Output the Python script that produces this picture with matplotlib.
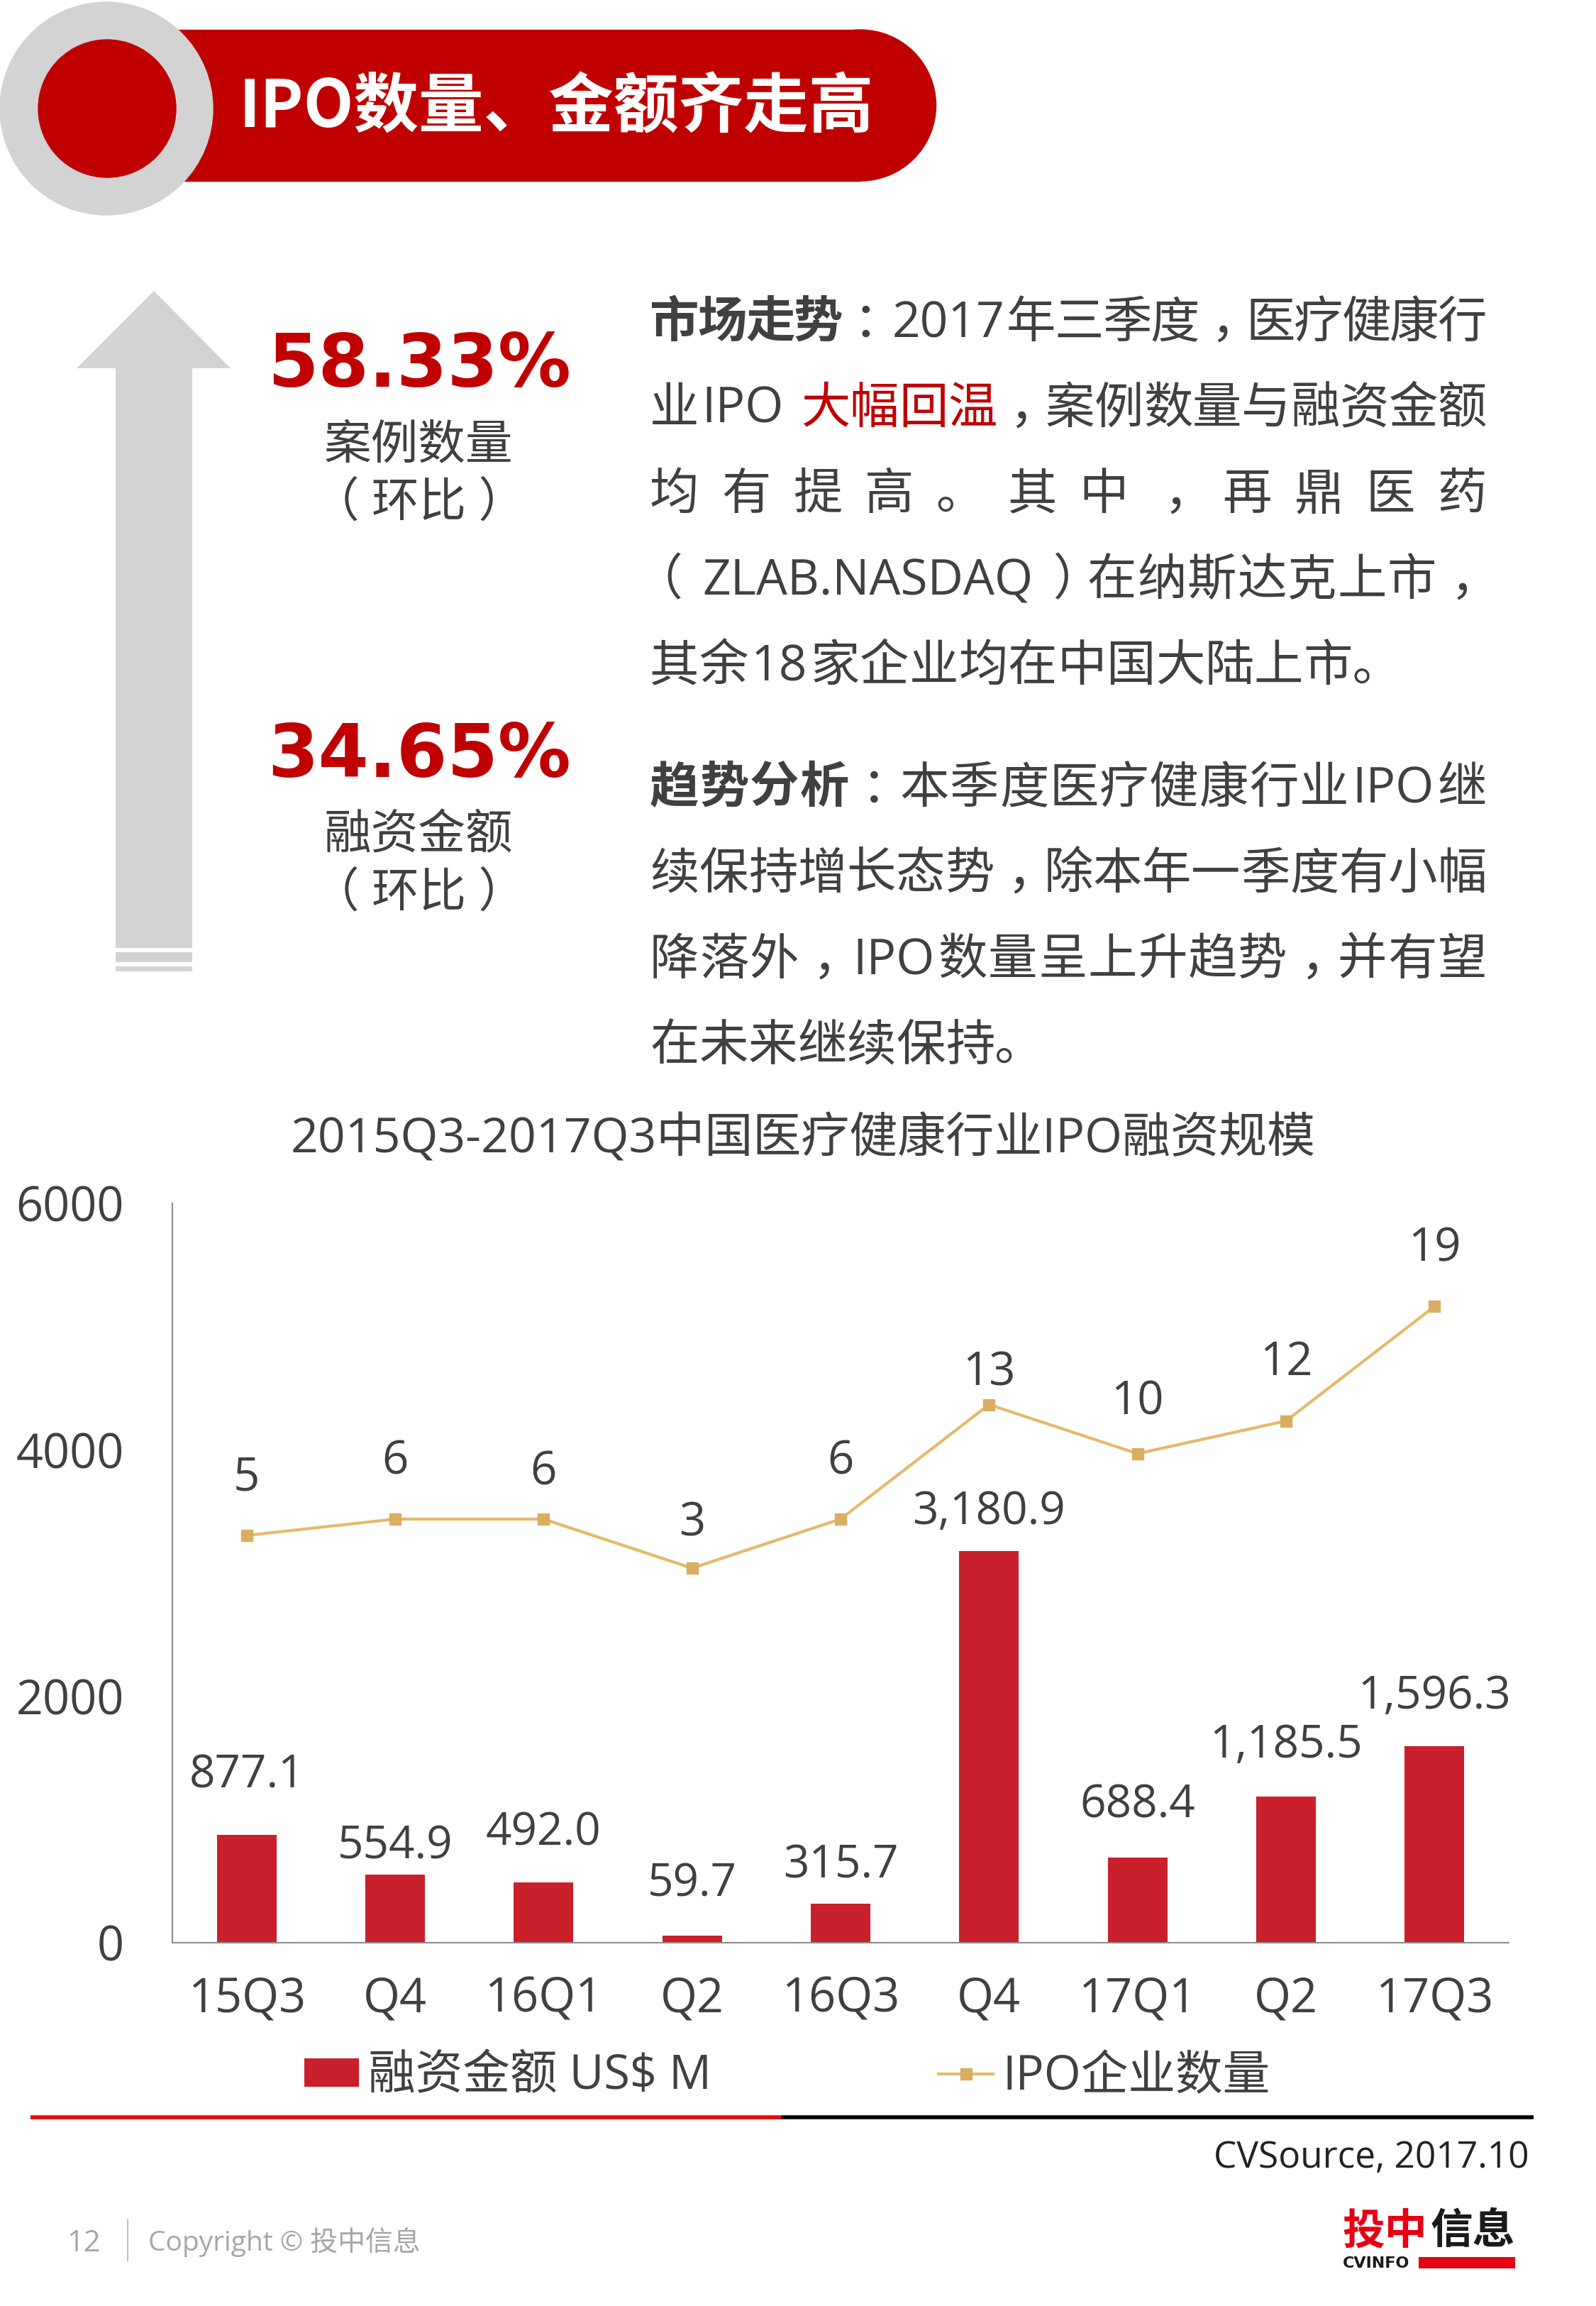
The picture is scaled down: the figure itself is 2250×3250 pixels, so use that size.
import matplotlib
matplotlib.use("Agg")
import numpy as np
import matplotlib.pyplot as plt
from matplotlib.patches import Rectangle, Circle, Polygon, PathPatch
from matplotlib.textpath import TextPath
from matplotlib.font_manager import FontProperties
from matplotlib.transforms import Affine2D

# ---- data ----
quarters = ["15Q3", "Q4", "16Q1", "Q2", "16Q3", "Q4", "17Q1", "Q2", "17Q3"]
amount = [877.1, 554.9, 492.0, 59.7, 315.7, 3180.9, 688.4, 1185.5, 1596.3]
ipo_count = [5, 6, 6, 3, 6, 13, 10, 12, 19]
yticks = [0, 2000, 4000, 6000]

# label offsets (points above the mark), as placed in the original slide
amount_dy = [60, 28, 50, 52, 39, 39, 53, 52, 50]
count_dy = [58, 58, 47, 45, 58, 32, 52, 59, 58]

FONT = ["Open Sans", "Noto Sans CJK SC"]
plt.rcParams["font.family"] = FONT
TXT = "#404040"
RED = "#C00000"
BAR = "#C9202B"
GOLD = "#E6B96B"
GREY = "#D3D3D3"

fig = plt.figure(figsize=(22.5, 32.5), dpi=100)
page = fig.add_axes([0, 0, 1, 1])
page.set_xlim(0, 2250)
page.set_ylim(3250, 0)
page.axis("off")

# ---- header banner ----
page.add_patch(Rectangle((200, 42), 1013, 213, color=RED, zorder=1))
page.add_patch(Circle((1213, 148.5), 106.5, color=RED, zorder=1))
page.add_patch(Circle((150, 153), 150, color=GREY, zorder=2))
page.add_patch(Circle((151, 153), 97, color=RED, zorder=3))
page.text(337, 152, "IPO数量、金额齐走高", color="white", fontsize=66,
          fontweight="bold", family=["Noto Sans CJK SC"], ha="left", va="center", zorder=4)

# ---- arrow ----
page.add_patch(Polygon([(217, 410), (325, 519), (271, 519), (271, 1336), (163, 1336),
                        (163, 519), (108, 519)], closed=True, color=GREY, lw=0))
page.add_patch(Rectangle((163, 1342), 108, 14, color=GREY, lw=0))
page.add_patch(Rectangle((163, 1362), 108, 7, color=GREY, lw=0))

for pct, lab, yc in [("58.33%", "案例数量", 517), ("34.65%", "融资金额", 1067)]:
    page.text(591, yc, pct, color=RED, fontsize=74, fontweight="bold",
              family=["DejaVu Sans"], ha="center", va="center")
    page.text(590, yc + 112, lab, color=TXT, fontsize=48, ha="center", va="center")
    page.text(590, yc + 193, "（ 环比 ）", color=TXT, fontsize=48, ha="center", va="center")

# ---- justified body text ----
paragraphs = [
    ([[("市场走势", True, TXT), ("：2017年三季度，医疗健康行", False, TXT)],
      [("业IPO ", False, TXT), ("大幅回温", False, RED), ("，案例数量与融资金额", False, TXT)],
      [("均有提高。其中，再鼎医药", False, TXT)],
      [("（ZLAB.NASDAQ）在纳斯达克上市，", False, TXT)],
      [("其余18家企业均在中国大陆上市。", False, TXT)]], 450),
    ([[("趋势分析", True, TXT), ("：本季度医疗健康行业IPO继", False, TXT)],
      [("续保持增长态势，除本年一季度有小幅", False, TXT)],
      [("降落外，IPO数量呈上升趋势，并有望", False, TXT)],
      [("在未来继续保持。", False, TXT)]], 1106),
]
FS = 50
EM = FS * 100 / 72
X0, X1 = 916, 2096
LINE = 121
PUNCT = "，。：、（）"
CENTRED = "，：（）"
renderer = fig.canvas.get_renderer()
cjk_prop = FontProperties(family=["Noto Sans CJK SC"])


def split_units(segments):
    units = []
    for txt, bold, color in segments:
        buf = ""
        for ch in txt:
            if ord(ch) < 0x2000 and ch != " ":
                buf += ch
                continue
            if buf:
                units.append((buf, bold, color, "latin"))
                buf = ""
            if ch == " ":
                kind = "space"
            elif ch in PUNCT:
                kind = "punct"
            else:
                kind = "cjk"
            units.append((ch, bold, color, kind))
        if buf:
            units.append((buf, bold, color, "latin"))
    return units


def punct_patch(ch, x, base, color):
    # commas, colons and brackets sit in the middle of their cell on the slide,
    # the full stop keeps its own bottom-left place
    tp = TextPath((0, 0), ch, size=EM, prop=cjk_prop)
    if ch in CENTRED:
        ext = tp.get_extents()
        tr = Affine2D().translate(-(ext.x0 + ext.x1) / 2, 0).scale(1, -1).translate(x + EM / 2, base)
    else:
        tr = Affine2D().scale(1, -1).translate(x, base)
    page.add_patch(PathPatch(tr.transform_path(tp), color=color, lw=0))


for lines, y0 in paragraphs:
    for li, segs in enumerate(lines):
        base = y0 + li * LINE + 25
        units = split_units(segs)
        arts, widths = [], []
        for s, bold, color, kind in units:
            if kind in ("space", "punct"):
                arts.append(None)
                widths.append(0.3 * EM if kind == "space" else EM)
                continue
            t = page.text(0, base, s, fontsize=FS, color=color,
                          fontweight="bold" if bold else "normal",
                          ha="left" if kind == "latin" else "center", va="baseline")
            arts.append(t)
            if kind == "latin":
                widths.append(t.get_window_extent(renderer).width + 0.12 * EM)
            else:
                widths.append(EM)
        last = li == len(lines) - 1
        gap = 0 if last else (X1 - X0 - sum(widths)) / (len(units) - 1)
        x = X0
        for (s, bold, color, kind), t, w in zip(units, arts, widths):
            if kind == "latin":
                t.set_x(x + 0.06 * EM)
            elif kind == "cjk":
                t.set_x(x + w / 2)
            elif kind == "punct":
                punct_patch(s, x, base, color)
            x += w + gap

# ---- chart ----
page.text(1132, 1606, "2015Q3-2017Q3中国医疗健康行业IPO融资规模", color=TXT,
          fontsize=49, ha="center", va="center")

ax = fig.add_axes([243 / 2250, 512 / 3250, 1884 / 2250, 1042 / 3250])
ax.set_facecolor("none")
xpos = np.arange(len(quarters))
bars = ax.bar(xpos, amount, width=0.4, color=BAR, zorder=2)
ax.set_xlim(-0.5, 8.5)
ax.set_ylim(0, 6000)
ax.set_yticks(yticks)
ax.set_xticks(xpos)
ax.set_xticklabels(quarters)
ax.tick_params(axis="y", length=0, pad=49, labelsize=48, labelcolor=TXT)
ax.tick_params(axis="x", length=0, pad=33, labelsize=48, labelcolor=TXT)
for sp in ["top", "right"]:
    ax.spines[sp].set_visible(False)
for sp in ["left", "bottom"]:
    ax.spines[sp].set_color("#8C8C8C")
    ax.spines[sp].set_linewidth(1.5)

for i, (v, dy) in enumerate(zip(amount, amount_dy)):
    ax.annotate(f"{v:,.1f}", (i, v), xytext=(0, dy), textcoords="offset points",
                ha="center", va="center", fontsize=46, color=TXT)

ax2 = ax.twinx()
line, = ax2.plot(xpos, ipo_count, color=GOLD, lw=3, marker="s", ms=11,
                 mfc="#D9AE62", mec="#D9AE62", zorder=3)
ax2.set_ylim(-19.9, 25.3)
ax2.axis("off")
for i, (v, dy) in enumerate(zip(ipo_count, count_dy)):
    ax2.annotate(str(v), (i, v), xytext=(0, dy), textcoords="offset points",
                 ha="center", va="center", fontsize=47, color=TXT)

fig.legend([bars, line], ["融资金额 US$ M", "IPO企业数量"], loc="center",
           bbox_to_anchor=(1110 / 2250, 1 - 2927 / 3250), ncol=2, frameon=False,
           fontsize=48, labelcolor=TXT, handlelength=1.15, handleheight=0.55,
           handletextpad=0.2, columnspacing=4.8)

# ---- footer ----
page.plot([43, 1101], [2984, 2984], color="#F00000", lw=4, solid_capstyle="butt")
page.plot([1101, 2162], [2984, 2984], color="black", lw=4, solid_capstyle="butt")
page.text(2156, 3041, "CVSource, 2017.10", color="#222222", fontsize=37,
          ha="right", va="center")

page.text(94, 3162, "12", color="#A6A6A6", fontsize=30, ha="left", va="center")
page.plot([180, 180], [3129, 3186], color="#BFBFBF", lw=1.5)
page.text(209, 3160, "Copyright © 投中信息", color="#A6A6A6", fontsize=28,
          ha="left", va="center")

page.text(1892, 3145, "投中", color="#E60012", fontsize=43, fontweight="bold",
          family=["Noto Sans CJK SC"], ha="left", va="center")
page.text(2136, 3145, "信息", color="#1A1A1A", fontsize=43, fontweight="bold",
          family=["Noto Sans CJK SC"], ha="right", va="center")
page.text(1893, 3190, "CVINFO", color="#1A1A1A", fontsize=16, fontweight="bold",
          family=["DejaVu Sans"], ha="left", va="center")
page.add_patch(Rectangle((2000, 3181), 136, 16, color="#E60012", lw=0))

fig.savefig("out.png", dpi=100)
